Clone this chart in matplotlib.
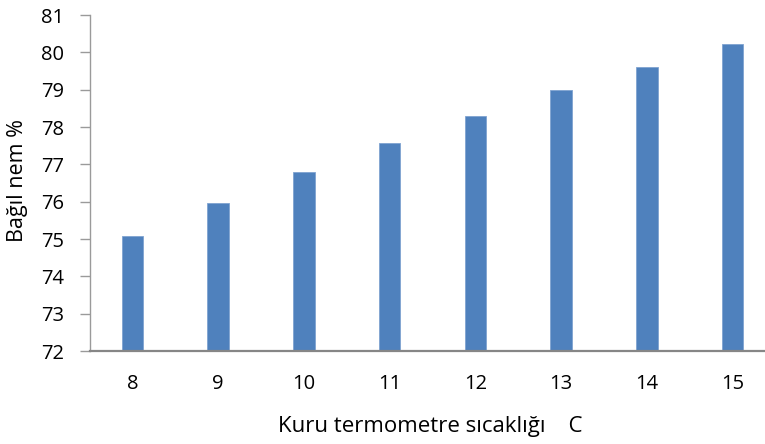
import matplotlib
matplotlib.use("Agg")
import matplotlib.pyplot as plt

# Dry-bulb temperature (°C) and relative humidity (%)
temperatures = [8, 9, 10, 11, 12, 13, 14, 15]
humidity = [75.07, 75.96, 76.80, 77.56, 78.30, 78.98, 79.61, 80.22]
y_ticks = [72, 73, 74, 75, 76, 77, 78, 79, 80, 81]

plt.rcParams['font.family'] = ['Open Sans', 'DejaVu Sans']

fig = plt.figure(figsize=(7.65, 4.44), dpi=100)
W, H = 765, 444
left, right, top, bottom = 89.5, 775.5, 15, 351
ax = fig.add_axes([left / W, (H - bottom) / H, (right - left) / W, (bottom - top) / H])

positions = list(range(len(temperatures)))
ax.bar(positions, [h - 72 for h in humidity], bottom=72, width=0.25,
       color='#4f81bd', edgecolor='#7fa3d1', linewidth=0.6, zorder=2)

ax.set_xlim(-0.5, len(temperatures) - 0.5)
ax.set_ylim(72, 81)
ax.set_yticks(y_ticks)
ax.set_yticklabels([str(t) for t in y_ticks])
ax.set_xticks(positions)
ax.set_xticklabels([str(t) for t in temperatures])

for side in ('top', 'right'):
    ax.spines[side].set_visible(False)
ax.spines['left'].set_color('#9a9a9a')
ax.spines['left'].set_linewidth(1.0)
ax.spines['bottom'].set_color('#868686')
ax.spines['bottom'].set_linewidth(1.6)
ax.spines['bottom'].set_zorder(3)

ax.tick_params(axis='y', direction='out', length=7.5, width=1.0, color='#9a9a9a',
               labelsize=14.5, labelcolor='#000000', pad=11)
ax.tick_params(axis='x', length=0, labelsize=14.5, labelcolor='#000000', pad=16.5)

fig.text(278 / W, 1 - 426 / H, 'Kuru termometre sıcaklığı    C', fontsize=16,
         ha='left', va='center')
fig.text(18 / W, 1 - 181 / H, 'Bağıl nem %', fontsize=15.5, rotation=90,
         ha='center', va='center')

fig.savefig('out.png', dpi=100, facecolor='white')
